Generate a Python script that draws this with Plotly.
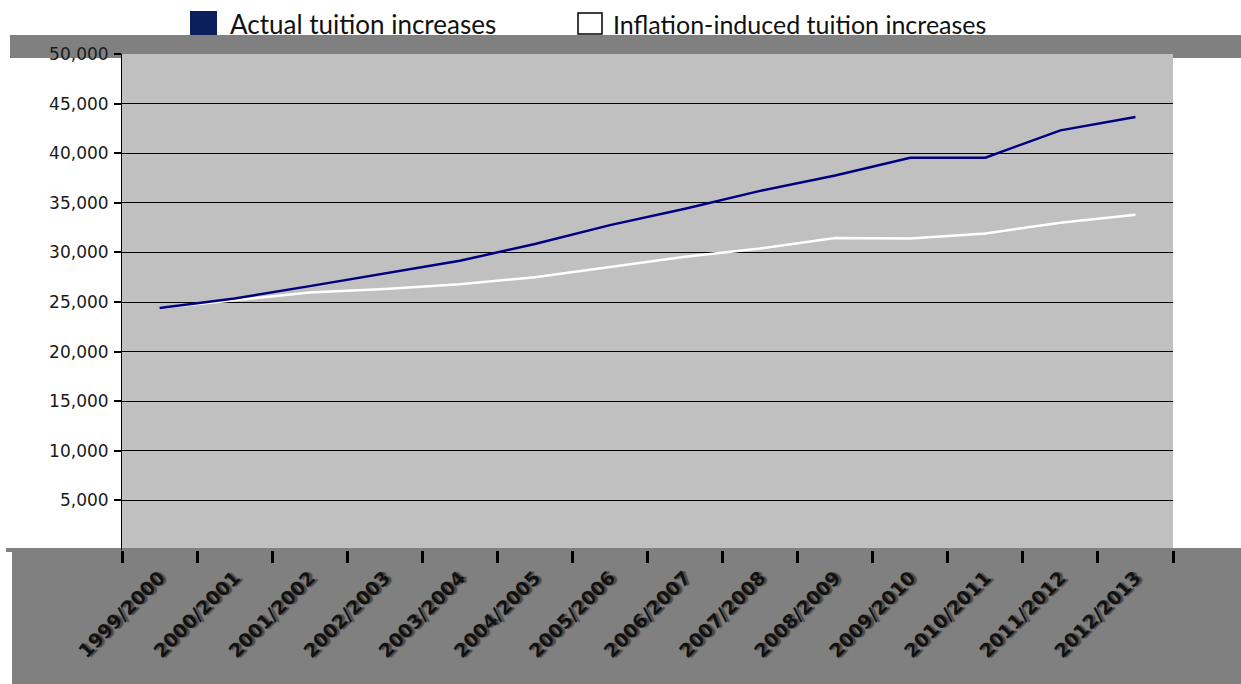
import plotly.graph_objects as go

# Academic years on the category axis
years = ["1999/2000", "2000/2001", "2001/2002", "2002/2003", "2003/2004",
         "2004/2005", "2005/2006", "2006/2007", "2007/2008", "2008/2009",
         "2009/2010", "2010/2011", "2011/2012", "2012/2013"]

# Tuition in each year
actual_tuition = [24400, 25350, 26600, 27850, 29150, 30850, 32750,
                  34400, 36200, 37750, 39550, 39550, 42300, 43650]
inflation_tuition = [24400, 25200, 25950, 26300, 26800, 27500, 28550,
                     29550, 30400, 31450, 31400, 31900, 33000, 33800]

y_ticks = [5000, 10000, 15000, 20000, 25000, 30000, 35000, 40000, 45000, 50000]

series_names = ["Actual tuition increases", "Inflation-induced tuition increases"]

W, H = 1241, 684
L, R, T, B = 122, 1173, 54, 550  # plot area in pixels


def px(x):
    return (x - L) / (R - L)


def py(y):
    return (B - y) / (B - T)


fig = go.Figure()
fig.add_trace(go.Scatter(x=years, y=inflation_tuition, mode="lines",
                         line=dict(color="#ffffff", width=2.5),
                         name=series_names[1], hoverinfo="skip"))
fig.add_trace(go.Scatter(x=years, y=actual_tuition, mode="lines",
                         line=dict(color="#000080", width=2.5),
                         name=series_names[0], hoverinfo="skip"))

shapes = [
    # dark band behind the top of the chart
    dict(type="rect", xref="paper", yref="paper", layer="below",
         x0=px(10), x1=px(W), y0=py(58), y1=py(35),
         fillcolor="#808080", line=dict(width=0)),
    # plot area
    dict(type="rect", xref="paper", yref="paper", layer="below",
         x0=0, x1=1, y0=0, y1=1, fillcolor="#c0c0c0", line=dict(width=0)),
    # category label strip
    dict(type="rect", xref="paper", yref="paper", layer="below",
         x0=px(6), x1=px(W), y0=py(H), y1=py(548),
         fillcolor="#808080", line=dict(width=0)),
    dict(type="rect", xref="paper", yref="paper", layer="below",
         x0=px(6), x1=px(12), y0=py(H), y1=py(552),
         fillcolor="#ffffff", line=dict(width=0)),
    # legend keys
    dict(type="rect", xref="paper", yref="paper", layer="above",
         x0=px(190), x1=px(217), y0=py(35), y1=py(11),
         fillcolor="#0a1f5c", line=dict(width=0)),
    dict(type="rect", xref="paper", yref="paper", layer="above",
         x0=px(578), x1=px(602), y0=py(34), y1=py(13),
         fillcolor="#ffffff", line=dict(color="#000000", width=1.5)),
]

annotations = [
    dict(text=series_names[0], xref="paper", yref="paper",
         x=px(228), y=py(24), xanchor="left", yanchor="middle", showarrow=False,
         font=dict(family="Lato", size=26, color="#111111")),
    dict(text=series_names[1], xref="paper", yref="paper",
         x=px(611), y=py(24), xanchor="left", yanchor="middle", showarrow=False,
         font=dict(family="Lato", size=25, color="#111111")),
]

fig.update_layout(
    width=W, height=H, autosize=False,
    margin=dict(l=L, r=W - R, t=T, b=H - B, pad=0),
    paper_bgcolor="#ffffff", plot_bgcolor="#c0c0c0",
    showlegend=False,
    shapes=shapes, annotations=annotations,
    xaxis=dict(
        type="category", range=[-0.5, len(years) - 0.5],
        showgrid=False, zeroline=False, showline=False,
        ticks="outside", tickson="boundaries", ticklen=12, tickwidth=3,
        tickcolor="#000000", tickangle=-45, ticklabelstandoff=12,
        tickfont=dict(family="DejaVu Sans", size=19, color="#111111",
                      weight="bold", shadow="2px 2px 1px #4a4a4a"),
    ),
    yaxis=dict(
        range=[0, 50000], tickvals=y_ticks, tickformat=",d",
        showgrid=True, gridcolor="#000000", gridwidth=1,
        zeroline=False, showline=True, linecolor="#000000", linewidth=1,
        ticks="outside", ticklen=7, tickwidth=2, tickcolor="#000000",
        ticklabelstandoff=2,
        tickfont=dict(family="DejaVu Sans", size=17, color="#1a1a1a"),
    ),
)

fig.write_html("out.html", config={"displayModeBar": False})
